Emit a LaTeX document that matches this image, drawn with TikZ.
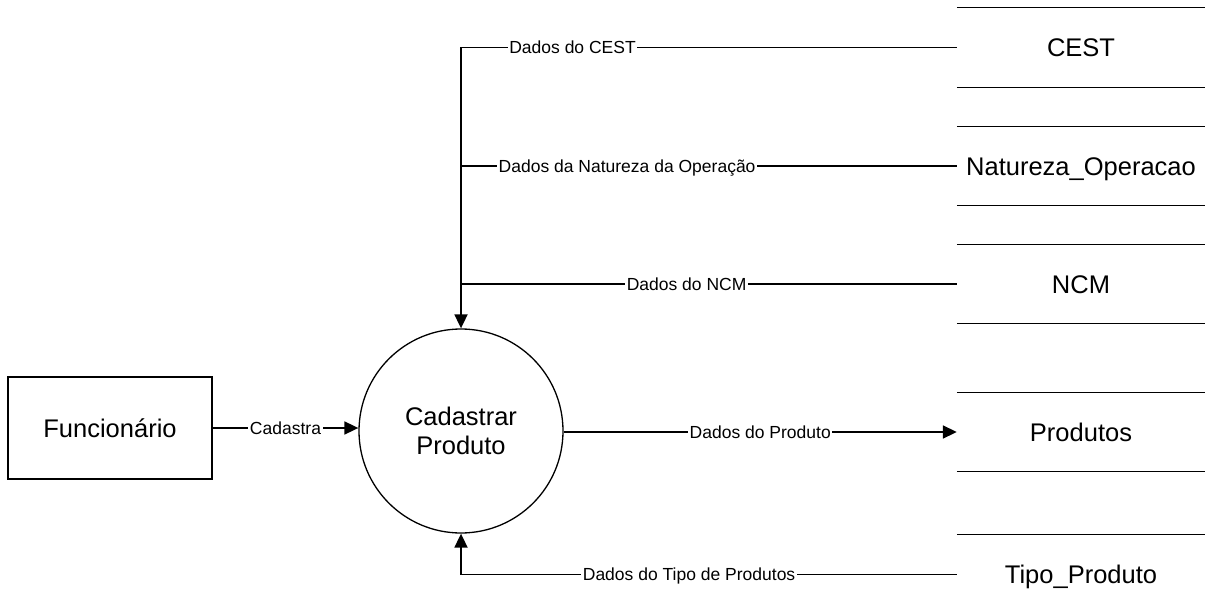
\documentclass[tikz,border=0pt]{standalone}
\usepackage{fontspec}
\setmainfont{Liberation Sans}
\usetikzlibrary{arrows.meta}
\begin{document}
\begin{tikzpicture}[x=1pt,y=-1pt,
  bigtext/.style={font=\fontsize{25.5}{29}\selectfont},
  lbl/.style={fill=white,inner sep=1.5pt,font=\fontsize{17.5}{20}\selectfont,text height=12.5pt,text depth=0pt},
  conn/.style={line width=1.8pt},
  arr/.style={conn,-{Triangle[length=14pt,width=13pt]}},
  store/.style={bigtext,minimum width=248pt,minimum height=79pt,inner sep=0pt,text height=18.3pt,text depth=0pt},
  storeline/.style={line width=1.3pt}
]
\useasboundingbox (0,0) rectangle (1207,612);
% external entity
\node[draw,line width=1.3pt,bigtext,minimum width=204pt,minimum height=102pt,inner sep=0pt] (func) at (110,428) {Funcionário};
% process
\node[draw,circle,line width=1.3pt,bigtext,minimum size=204pt,inner sep=0pt,align=center] (proc) at (461,431) {Cadastrar\\Produto};
% data stores
\node[store] (cest) at (1081,47.5) {CEST};
\node[store] (nat) at (1081,166) {Natureza\_Operacao};
\node[store] (ncm) at (1081,284) {NCM};
\node[store] (prod) at (1081,432) {Produtos};
\node[store] (tipo) at (1081,574.5) {Tipo\_Produto};
\foreach \s in {cest,nat,ncm,prod}{
  \draw[storeline] (\s.north west) -- (\s.north east);
  \draw[storeline] (\s.south west) -- (\s.south east);
}
\draw[storeline] (tipo.north west) -- (tipo.north east);
% connectors
\coordinate (j1) at (proc.north |- cest.west);
\coordinate (j2) at (proc.north |- nat.west);
\coordinate (j3) at (proc.north |- ncm.west);
\coordinate (j4) at (proc.south |- tipo.west);
\draw[conn] (cest.west) -- node[lbl,pos=0.775]{Dados do CEST} (j1);
\draw[arr] (j1) -- (proc.north);
\draw[conn] (nat.west) -- node[lbl,pos=0.665]{Dados da Natureza da Operação} (j2);
\draw[conn] (ncm.west) -- node[lbl,pos=0.545]{Dados do NCM} (j3);
\draw[arr] (prod.west -| proc.east) -- node[lbl]{Dados do Produto} (prod.west);
\draw[conn] (tipo.west) -- node[lbl,pos=0.54]{Dados do Tipo de Produtos} (j4);
\draw[arr] (j4) -- (proc.south);
\draw[arr] (func.east) -- node[lbl]{Cadastra} (func.east -| proc.west);
\end{tikzpicture}
\end{document}
